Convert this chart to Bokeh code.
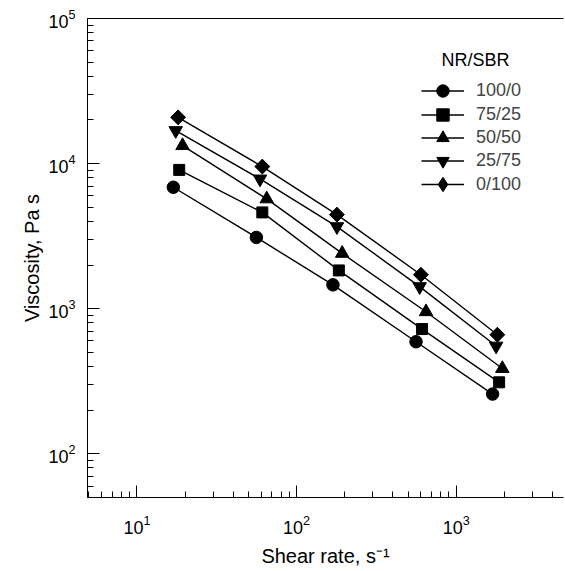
from bokeh.plotting import figure
from bokeh.models import LogAxis, Legend, LegendItem, Label, Range1d
from bokeh.embed import file_html
from bokeh.resources import INLINE
import numpy as np

# NR/SBR blends: shear rate (1/s) and viscosity (Pa s)
series_labels = ["100/0", "75/25", "50/50", "25/75", "0/100"]
rate_100_0 = [16.9, 56, 169, 560, 1690]
visc_100_0 = [6870, 3100, 1460, 592, 258]
rate_75_25 = [18.4, 61, 184, 611, 1857]
visc_75_25 = [9050, 4610, 1836, 724, 311]
rate_50_50 = [19.3, 65, 193, 647, 1945]
visc_50_50 = [13300, 5710, 2405, 953, 387]
rate_25_75 = [17.5, 59, 179, 590, 1778]
visc_25_75 = [16900, 7840, 3680, 1420, 553]
rate_0_100 = [18.1, 61, 179, 601, 1811]
visc_0_100 = [20840, 9540, 4450, 1715, 662]

FONT = "Liberation Sans"
FRAME_BOTTOM = 497  # px from top of canvas

p = figure(width=565, height=571, x_axis_type="log", y_axis_type="log",
           x_range=Range1d(4.9, 4700), y_range=Range1d(50, 1e5),
           output_backend="svg", toolbar_location=None,
           min_border_left=87, min_border_right=2, min_border_top=18, min_border_bottom=74)
p.grid.visible = False
p.outline_line_color = None
p.background_fill_color = "white"
p.border_fill_color = "white"

for ax in (p.xaxis[0], p.yaxis[0]):
    ax.major_tick_in = 12
    ax.major_tick_out = 0
    ax.minor_tick_in = 6
    ax.minor_tick_out = 0
    ax.axis_line_color = "black"
    ax.major_tick_line_color = "black"
    ax.minor_tick_line_color = "black"
    ax.major_label_text_font = FONT
    ax.major_label_text_font_size = "18px"
    ax.major_label_text_color = "black"
    ax.axis_label_text_font = FONT
    ax.axis_label_text_font_size = "20px"
    ax.axis_label_text_font_style = "normal"
    ax.axis_label_text_color = "black"

p.xaxis[0].major_label_standoff = 17
p.yaxis[0].major_label_standoff = 12
p.xaxis[0].axis_label = "Shear rate, s\u207b\u00b9"
p.yaxis[0].axis_label = "Viscosity, Pa s"
p.xaxis[0].axis_label_standoff = 8
p.yaxis[0].axis_label_standoff = 2

top = LogAxis(major_tick_line_color=None, minor_tick_line_color=None,
              major_label_text_alpha=0, major_label_text_font_size="2px",
              major_label_standoff=0, axis_line_color="black")
p.add_layout(top, "above")

series = [
    (rate_100_0, visc_100_0, "circle", 12.5),
    (rate_75_25, visc_75_25, "square", 11),
    (rate_50_50, visc_50_50, "triangle", 13.5),
    (rate_25_75, visc_25_75, "inverted_triangle", 13.5),
    (rate_0_100, visc_0_100, "diamond", 14),
]

legend_rends = []
for xs, ys, marker, size in series:
    lr = p.line(xs, ys, line_color="black", line_width=1.4)
    if marker == "diamond":
        # diamond used for the legend sample; a 45-degree square on top
        # gives the full square-diamond shape in the plot
        dr = p.scatter(xs, ys, marker="diamond", size=size,
                       fill_color="black", line_color="black")
        p.scatter(xs, ys, marker="square", size=10.5, angle=np.pi / 4,
                  fill_color="black", line_color="black")
        legend_rends.append([lr, dr])
    else:
        sr = p.scatter(xs, ys, marker=marker, size=size,
                       fill_color="black", line_color="black")
        legend_rends.append([lr, sr])

for i, (lab, rends) in enumerate(zip(series_labels, legend_rends)):
    gh = 36 if i == 4 else 31
    row_center = 90.7 + 23.4 * i
    y_loc = FRAME_BOTTOM - (row_center + gh / 2)
    leg = Legend(items=[LegendItem(label=lab, renderers=rends)],
                 location=(334, y_loc), border_line_color=None,
                 background_fill_alpha=0, padding=0, margin=0, spacing=0,
                 glyph_width=43, glyph_height=gh, label_height=gh, label_standoff=12,
                 label_text_font=FONT, label_text_font_size="18px")
    p.add_layout(leg)

title = Label(x=354, y=438, x_units="screen", y_units="screen", text="NR/SBR",
              text_font=FONT, text_font_size="18px", text_baseline="middle",
              text_color="black")
p.add_layout(title)

open("out.html", "w").write(file_html(p, INLINE))
